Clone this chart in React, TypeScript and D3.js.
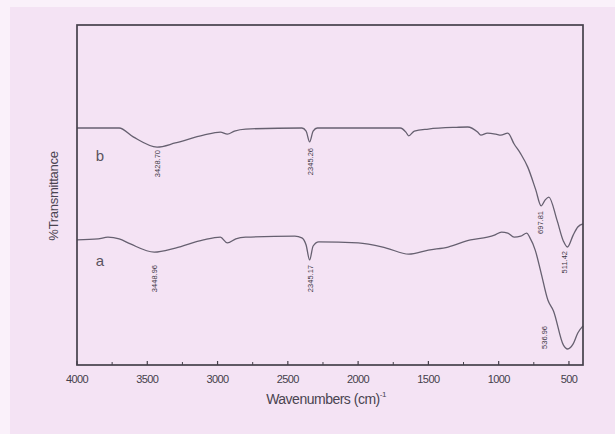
import React from "react";
import * as d3 from "d3";

// wavenumber (cm-1) and %T
const waveB = [4000, 3700, 3600, 3430, 3300, 3100, 2980, 2930, 2880, 2800, 2400, 2370, 2345, 2320, 2290, 1700, 1660, 1640, 1600, 1500, 1300, 1220, 1150, 1127, 1080, 1020, 985, 935, 890, 843, 793, 736, 698, 670, 643, 585, 540, 511, 470, 437, 400];
const transB = [69.7, 69.7, 67.1, 64.1, 65.3, 67.6, 68.5, 67.9, 68.8, 69.4, 69.7, 68.8, 65.6, 68.8, 69.7, 69.7, 68.5, 67.4, 68.8, 69.4, 69.9, 70.0, 68.5, 67.6, 68.2, 67.9, 67.6, 68.2, 65.0, 62.1, 58.2, 51.5, 46.8, 48.5, 49.4, 42.6, 36.5, 34.7, 38.2, 40.6, 41.5];

const waveA = [4000, 3850, 3780, 3700, 3620, 3450, 3300, 3100, 2980, 2930, 2870, 2800, 2450, 2400, 2370, 2345, 2320, 2280, 2000, 1800, 1640, 1500, 1360, 1200, 1080, 1030, 980, 935, 890, 843, 800, 780, 740, 700, 650, 610, 540, 510, 470, 437, 400];
const transA = [36.8, 37.1, 37.6, 37.1, 35.6, 33.2, 34.4, 36.8, 37.6, 35.9, 37.1, 37.6, 37.9, 37.4, 35.3, 30.9, 35.0, 36.2, 35.9, 34.4, 32.6, 33.8, 34.7, 36.8, 37.6, 38.2, 39.1, 38.8, 37.6, 37.9, 38.8, 37.6, 33.8, 27.4, 19.1, 15.9, 5.9, 4.7, 6.2, 9.4, 11.5];

// peak labels: text, where along x the label sits, and the y of its top end
const peakLabels = ["3428.70", "2345.26", "3448.96", "2345.17", "697.81", "511.42", "536.96"];
const peakLabelWave = [3428.7, 2345.26, 3448.96, 2345.17, 705, 535, 680];
const peakLabelTop = [150, 148, 265, 265, 211, 251, 326];

const seriesNames = ["b", "a"];
const xTicks = [4000, 3500, 3000, 2500, 2000, 1500, 1000, 500];
const xMinor = [3750, 3250, 2750, 2250, 1750, 1250, 750];

const W = 615;
const H = 434;
const left = 77;
const right = 583;
const top = 25;
const bottom = 365;

export default function App() {
  const x = d3.scaleLinear().domain([4000, 400]).range([left, right]);
  const y = d3.scaleLinear().domain([0, 100]).range([bottom, top]);

  const line = d3
    .line<[number, number]>()
    .x((d) => x(d[0]))
    .y((d) => y(d[1]))
    .curve(d3.curveMonotoneX);

  const dataB = waveB.map((w, i) => [w, transB[i]] as [number, number]);
  const dataA = waveA.map((w, i) => [w, transA[i]] as [number, number]);

  const ink = "#666070";

  return (
    <svg
      width={W}
      height={H}
      style={{ position: "absolute", left: 0, top: 0, fontFamily: "Liberation Sans, Arial, sans-serif" }}
    >
      <rect width={W} height={H} fill="#f4e3f4" />
      <rect width={10} height={H} fill="#faf1fa" />
      <rect width={W} height={7} fill="#faf1fa" />

      <path d={line(dataB) ?? ""} fill="none" stroke={ink} strokeWidth={1.3} />
      <path d={line(dataA) ?? ""} fill="none" stroke={ink} strokeWidth={1.3} />

      {peakLabels.map((label, i) => (
        <text
          key={label}
          transform={`translate(${x(peakLabelWave[i]) + 3},${peakLabelTop[i]}) rotate(-90)`}
          textAnchor="end"
          fontSize={7.5}
          fill="#3e3844"
        >
          {label}
        </text>
      ))}

      <text x={100} y={161} fontSize={15} fill="#5a5460" textAnchor="middle">
        {seriesNames[0]}
      </text>
      <text x={100} y={266} fontSize={15} fill="#5a5460" textAnchor="middle">
        {seriesNames[1]}
      </text>

      <rect
        x={left}
        y={top}
        width={right - left}
        height={bottom - top}
        fill="none"
        stroke="#45414b"
        strokeWidth={1.7}
      />

      {xTicks.map((t) => (
        <g key={t}>
          <line x1={x(t)} x2={x(t)} y1={bottom} y2={bottom - 4} stroke="#45414b" strokeWidth={1.2} />
          <text x={x(t)} y={383} fontSize={11} textAnchor="middle" fill="#45404b" letterSpacing={-0.6}>
            {t}
          </text>
        </g>
      ))}
      {xMinor.map((t) => (
        <line key={t} x1={x(t)} x2={x(t)} y1={bottom} y2={bottom - 3} stroke="#45414b" strokeWidth={1} />
      ))}

      <text x={326} y={404} fontSize={14} textAnchor="middle" fill="#4a4450" letterSpacing={-0.5}>
        Wavenumbers (cm)
        <tspan fontSize={8} dy={-7}>-1</tspan>
      </text>

      <text
        transform={`translate(58,196) rotate(-90)`}
        fontSize={13}
        textAnchor="middle"
        fill="#4a4450"
        letterSpacing={-0.3}
      >
        %Transmittance
      </text>
    </svg>
  );
}
